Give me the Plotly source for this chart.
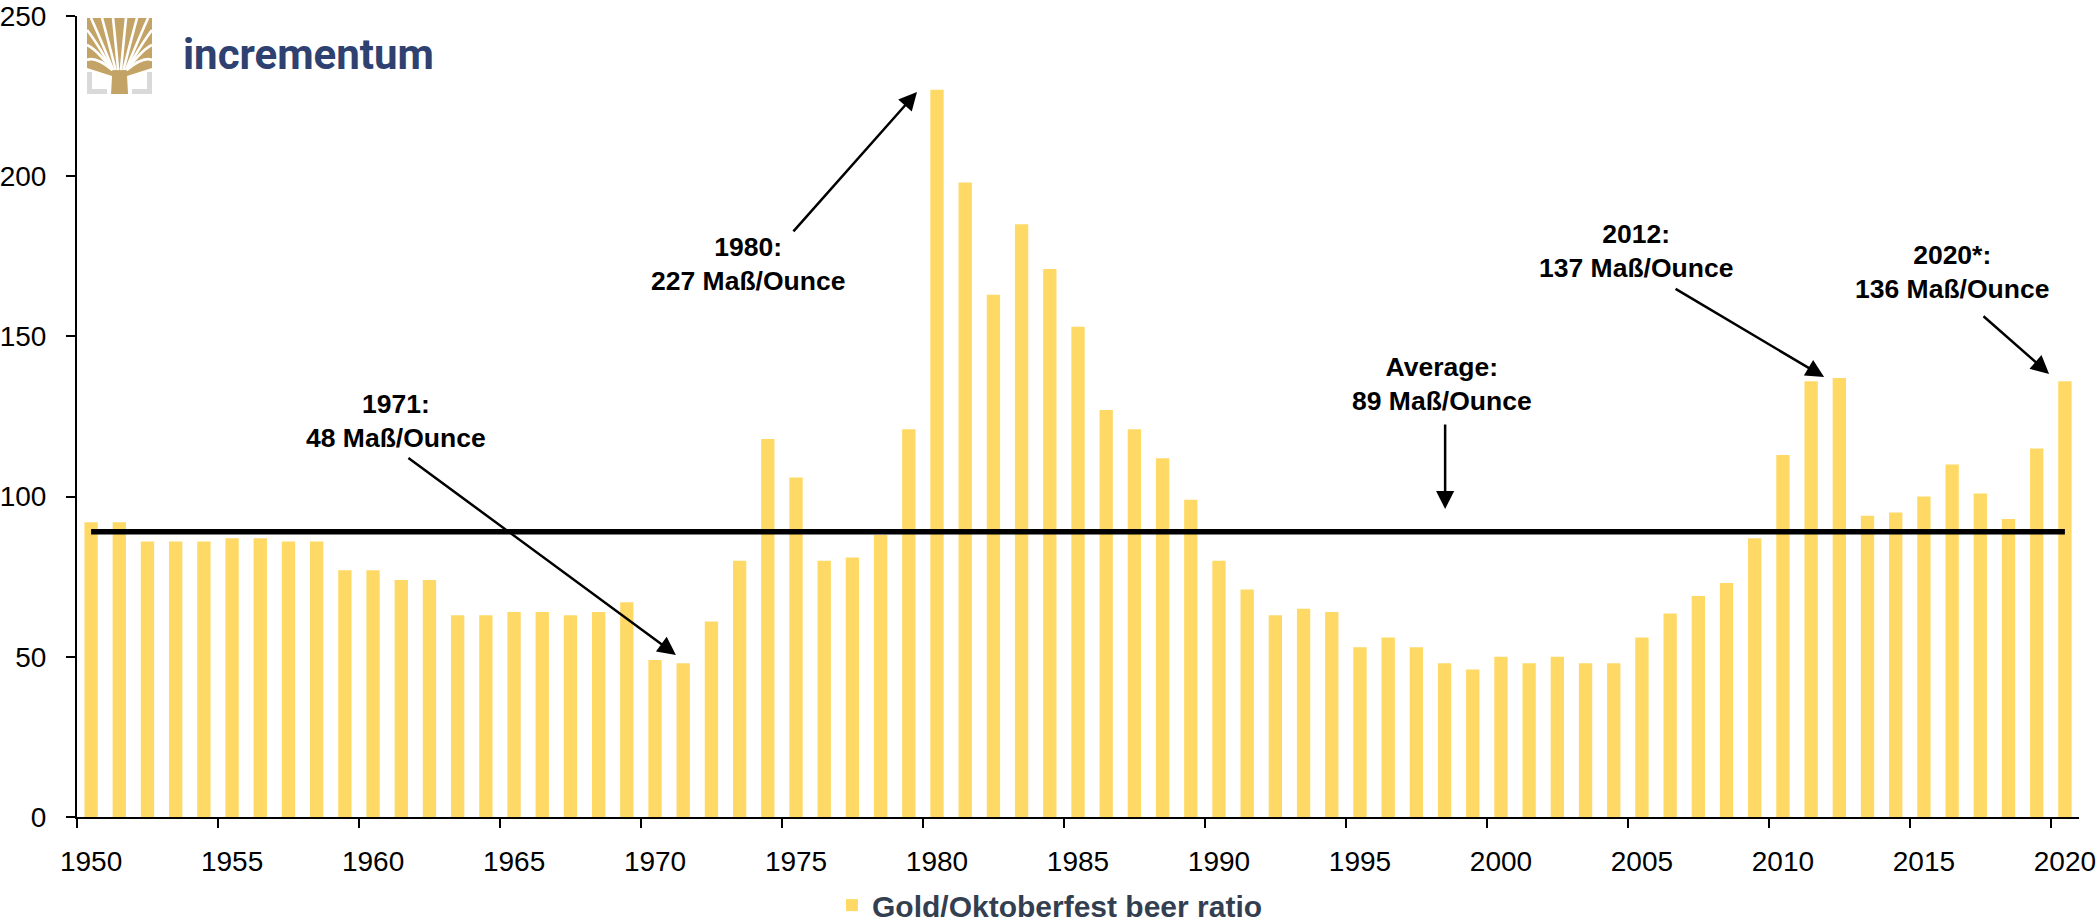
import base64
import plotly.graph_objects as go

# Gold/Oktoberfest beer ratio (Maß per ounce of gold), 1950-2020
years = list(range(1950, 2021))
ratio = [92, 92, 86, 86, 86, 87, 87, 86, 86, 77,
         77, 74, 74, 63, 63, 64, 64, 63, 64, 67,
         49, 48, 61, 80, 118, 106, 80, 81, 88, 121,
         227, 198, 163, 185, 171, 153, 127, 121, 112, 99,
         80, 71, 63, 65, 64, 53, 56, 53, 48, 46,
         50, 48, 50, 48, 48, 56, 63.5, 69, 73, 87,
         113, 136, 137, 94, 95, 100, 110, 101, 93, 115,
         136]
avg_ratio = 89
tick_years = list(range(1950, 2021, 5))
tick_labels = [str(y) for y in tick_years]
series_name = "Gold/Oktoberfest beer ratio"

# callouts: text, text position (x, y), arrow tail (x, y), arrow head (x, y)
callouts = [
    ("1971:<br>48 Maß/Ounce", (1960.8, 123.7), (1961.2, 112.4), (1970.74, 50.6)),
    ("1980:<br>227 Maß/Ounce", (1973.3, 172.7), (1974.86, 182.3), (1979.29, 226.3)),
    ("Average:<br>89 Maß/Ounce", (1997.9, 135.1), (1998.02, 123.0), (1998.02, 96.1)),
    ("2012:<br>137 Maß/Ounce", (2004.8, 176.6), (2006.14, 165.1), (2011.46, 137.3)),
    ("2020*:<br>136 Maß/Ounce", (2016.0, 170.0), (2017.06, 156.7), (2019.44, 138.3)),
]

FONT = "Liberation Sans, Arial, sans-serif"
BAR_COLOR = "#FFD966"

fig = go.Figure()

fig.add_trace(go.Bar(
    x=years, y=ratio, name=series_name,
    marker=dict(color=BAR_COLOR, line=dict(width=0)),
))

fig.add_trace(go.Scatter(
    x=[years[0], years[-1]], y=[avg_ratio, avg_ratio],
    mode="lines", line=dict(color="black", width=5.5),
    showlegend=False, hoverinfo="skip",
))

for text, (tx, ty), (ax, ay), (hx, hy) in callouts:
    fig.add_annotation(
        x=tx, y=ty, text=text, showarrow=False,
        font=dict(family=FONT, size=26.5, color="black", weight="bold"),
        align="center", xanchor="center", yanchor="middle",
    )
    fig.add_annotation(
        x=hx, y=hy, ax=ax, ay=ay, axref="x", ayref="y", text="",
        showarrow=True, arrowhead=2, arrowsize=1.45, arrowwidth=2.5,
        arrowcolor="black",
    )

# incrementum logo (simplified tree icon + wordmark)
targets = [(4, 0), (15, 0), (26, 0), (39, 0), (50, 0), (61, 0),
           (0, 12), (0, 27), (0, 42), (65, 12), (65, 27), (65, 42)]
lines = ""
for txp, typ in targets:
    sx = 32.5 + (txp - 32.5) * 0.22
    cx = (sx + txp) / 2 + (txp - 32.5) * 0.12
    cy = (50 + typ) / 2 - 8
    lines += (f'<path d="M{sx:.1f},52 Q{cx:.1f},{cy:.1f} {txp},{typ}" '
              'stroke="white" stroke-width="2.6" fill="none"/>')
svg = (
    '<svg xmlns="http://www.w3.org/2000/svg" viewBox="0 0 65 76" width="65" height="76">'
    '<path d="M2.5,54 V73.5 H20 M62.5,54 V73.5 H45" stroke="#D9D9D9" stroke-width="5" fill="none"/>'
    '<path d="M0,0 H65 V50 L40,58 L41,76 H24 L25,58 L0,50 Z" fill="#C4A466"/>'
    + lines +
    '</svg>'
)
logo_src = "data:image/svg+xml;base64," + base64.b64encode(svg.encode()).decode()
fig.add_layout_image(
    source=logo_src, xref="paper", yref="paper",
    x=0.005, y=0.9975, sizex=0.0325, sizey=0.0949,
    xanchor="left", yanchor="top", sizing="stretch", layer="above",
)
fig.add_annotation(
    xref="paper", yref="paper", x=0.052, y=0.952,
    text="incrementum", showarrow=False, xanchor="left", yanchor="middle",
    font=dict(family="Liberation Sans Narrow, Roboto, sans-serif", size=42,
              color="#2E4170", weight="bold"),
)

fig.update_layout(
    width=2099, height=923,
    margin=dict(l=77, r=20, t=16, b=106, pad=0, autoexpand=False),
    paper_bgcolor="white", plot_bgcolor="white",
    bargap=0.527,
    font=dict(family=FONT, color="black"),
    showlegend=True,
    legend=dict(
        orientation="h", x=0.486, xanchor="center", y=-0.11, yanchor="middle",
        font=dict(family=FONT, size=30, color="#333F50", weight="bold"),
        bgcolor="rgba(0,0,0,0)",
    ),
)

fig.update_xaxes(
    range=[1949.5, 2020.5],
    tickmode="array", tickvals=tick_years, ticktext=tick_labels,
    ticks="", showline=True, linecolor="black", linewidth=2,
    showgrid=False, zeroline=False,
    tickfont=dict(family=FONT, size=28, color="black"),
    ticklabelstandoff=18,
    minor=dict(tickvals=[y - 0.5 for y in tick_years], ticks="outside",
               ticklen=9, tickwidth=2, tickcolor="black", showgrid=False),
)
fig.update_yaxes(
    range=[0, 250], tickmode="array", tickvals=list(range(0, 251, 50)),
    ticks="outside", ticklen=9, tickwidth=2, tickcolor="black",
    showline=True, linecolor="black", linewidth=2,
    showgrid=False, zeroline=False,
    tickfont=dict(family=FONT, size=28, color="black"),
    ticklabelstandoff=14,
)

# drop the default page margin so the chart sits at the window origin
fig.write_html("out.html", config={"displayModeBar": False},
               post_script="document.body.style.margin='0';")
